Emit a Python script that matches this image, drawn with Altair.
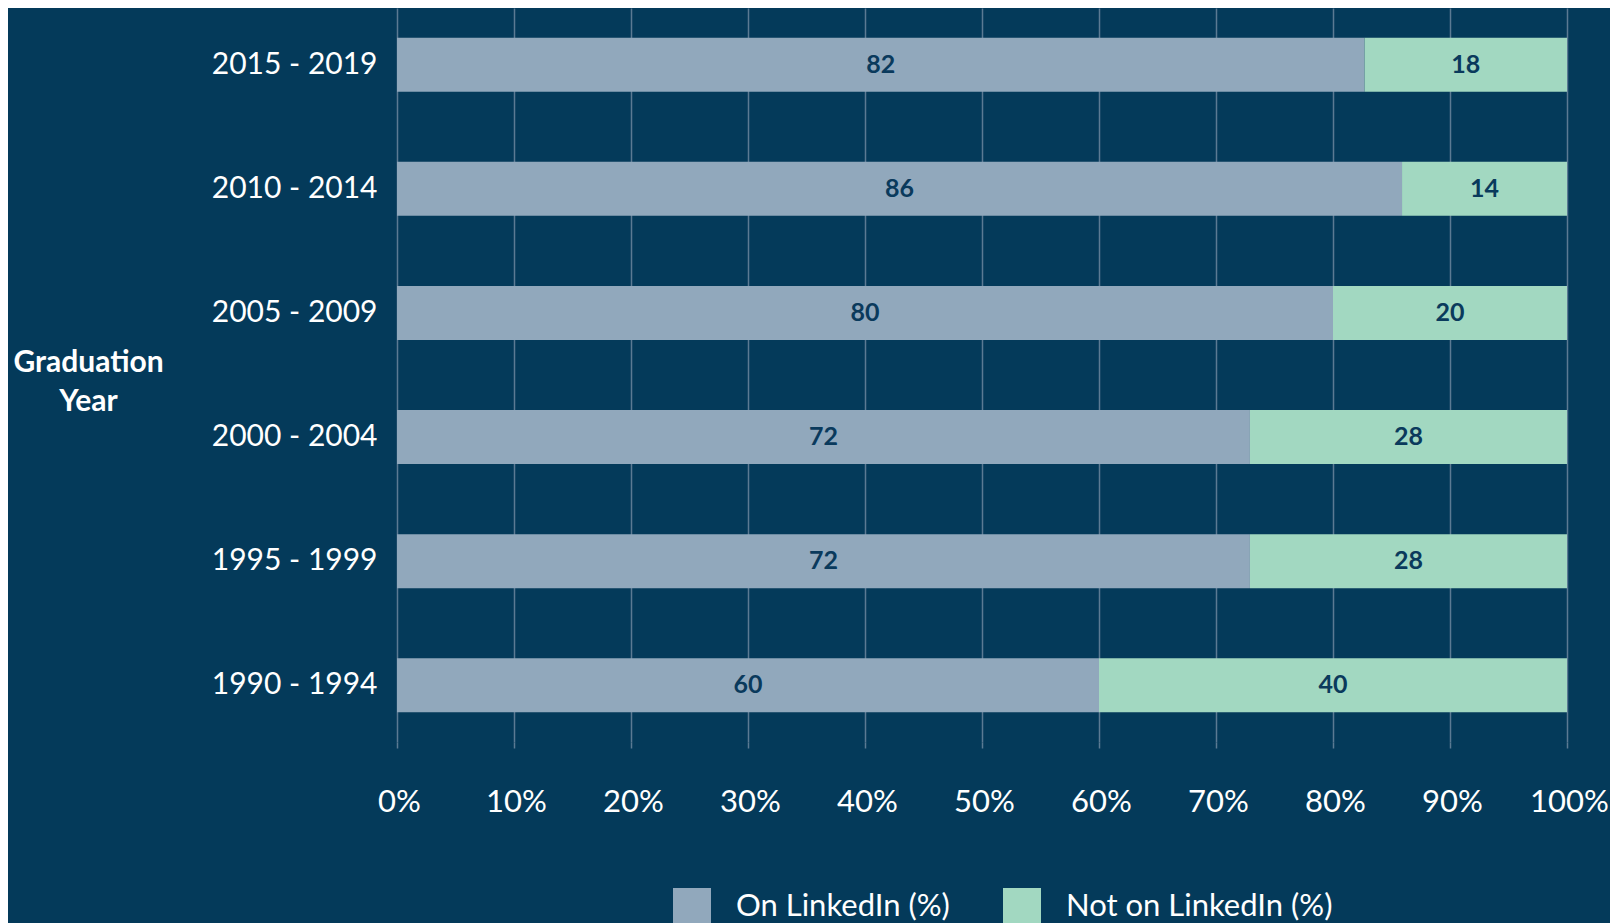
import altair as alt
import pandas as pd

categories = ["2015 - 2019", "2010 - 2014", "2005 - 2009", "2000 - 2004", "1995 - 1999", "1990 - 1994"]
series = ["On LinkedIn (%)", "Not on LinkedIn (%)"]
on_values = [82.7, 85.9, 80.0, 72.9, 72.9, 60.0]
off_values = [17.3, 14.1, 20.0, 27.1, 27.1, 40.0]
on_labels = [82, 86, 80, 72, 72, 60]
off_labels = [18, 14, 20, 28, 28, 40]
x_ticks = [0, 10, 20, 30, 40, 50, 60, 70, 80, 90, 100]
colors = ["#91A8BC", "#A2D8C1"]

BG = "#043A5A"
FONT = "Lato"

rows = []
for i, c in enumerate(categories):
    rows.append({"cat": c, "series": series[0], "value": on_values[i], "label": on_labels[i], "order": 0})
    rows.append({"cat": c, "series": series[1], "value": off_values[i], "label": off_labels[i], "order": 1})
df = pd.DataFrame(rows)

base = alt.Chart(df).transform_stack(
    stack="value", as_=["x0", "x1"], groupby=["cat"],
    sort=[alt.SortField("order", order="ascending")]
).transform_calculate(mid="(datum.x0 + datum.x1) / 2")

y_enc = alt.Y(
    "cat:N", sort=categories,
    scale=alt.Scale(paddingInner=0.565, paddingOuter=0.24),
    axis=alt.Axis(
        title=["Graduation", "Year"], titleAngle=0, titleX=-309, titleY=354,
        titleAlign="center", titleBaseline="middle", titleLineHeight=39,
        titleFontSize=30, titleFontWeight="bold", titleColor="white", titleFont=FONT,
        labelFontSize=30, labelColor="white", labelFont=FONT, labelPadding=20,
        domain=False, ticks=False, grid=False,
    ),
)

x_scale = alt.Scale(domain=[0, 100], nice=False, zero=True)

bars = base.mark_bar().encode(
    y=y_enc,
    x=alt.X("x0:Q", scale=x_scale, axis=alt.Axis(
        values=x_ticks, labelExpr="datum.value + '%'", title=None,
        grid=True, gridColor="#5B7A93", gridWidth=1.5,
        ticks=True, tickSize=6, tickColor="#5B7A93", tickWidth=1.5,
        domain=False, labelFontSize=31, labelColor="white", labelFont=FONT,
        labelPadding=39, labelBaseline="top", labelFlush=False, labelAlign="center",
        labelOverlap=False, labelOffset=2,
    )),
    x2="x1:Q",
    color=alt.Color("series:N", scale=alt.Scale(domain=series, range=colors),
                    sort=series,
                    legend=alt.Legend(
                        orient="none", legendX=276, legendY=880, direction="horizontal",
                        title=None, symbolType="square", symbolSize=1444,
                        symbolStrokeWidth=0, symbolOpacity=1, labelFontSize=31,
                        labelColor="white", labelFont=FONT, labelOffset=25,
                        columnPadding=53, padding=0, labelLimit=400,
                    )),
    order=alt.Order("order:Q"),
)

text = base.mark_text(font=FONT, fontSize=25, fontWeight="bold", color="#0A3A5C",
                      baseline="middle", align="center").encode(
    y=alt.Y("cat:N", sort=categories),
    x=alt.X("mid:Q", scale=x_scale),
    text=alt.Text("label:Q"),
)

chart = alt.layer(bars, text).properties(
    width=1170, height=734,
    autosize=alt.AutoSizeParams(type="none"),
    padding={"left": 389, "top": 0, "right": 43, "bottom": 181},
    background=BG,
).configure_view(stroke=None)

chart.save("out.html", embed_options={"renderer": "svg", "actions": False})
